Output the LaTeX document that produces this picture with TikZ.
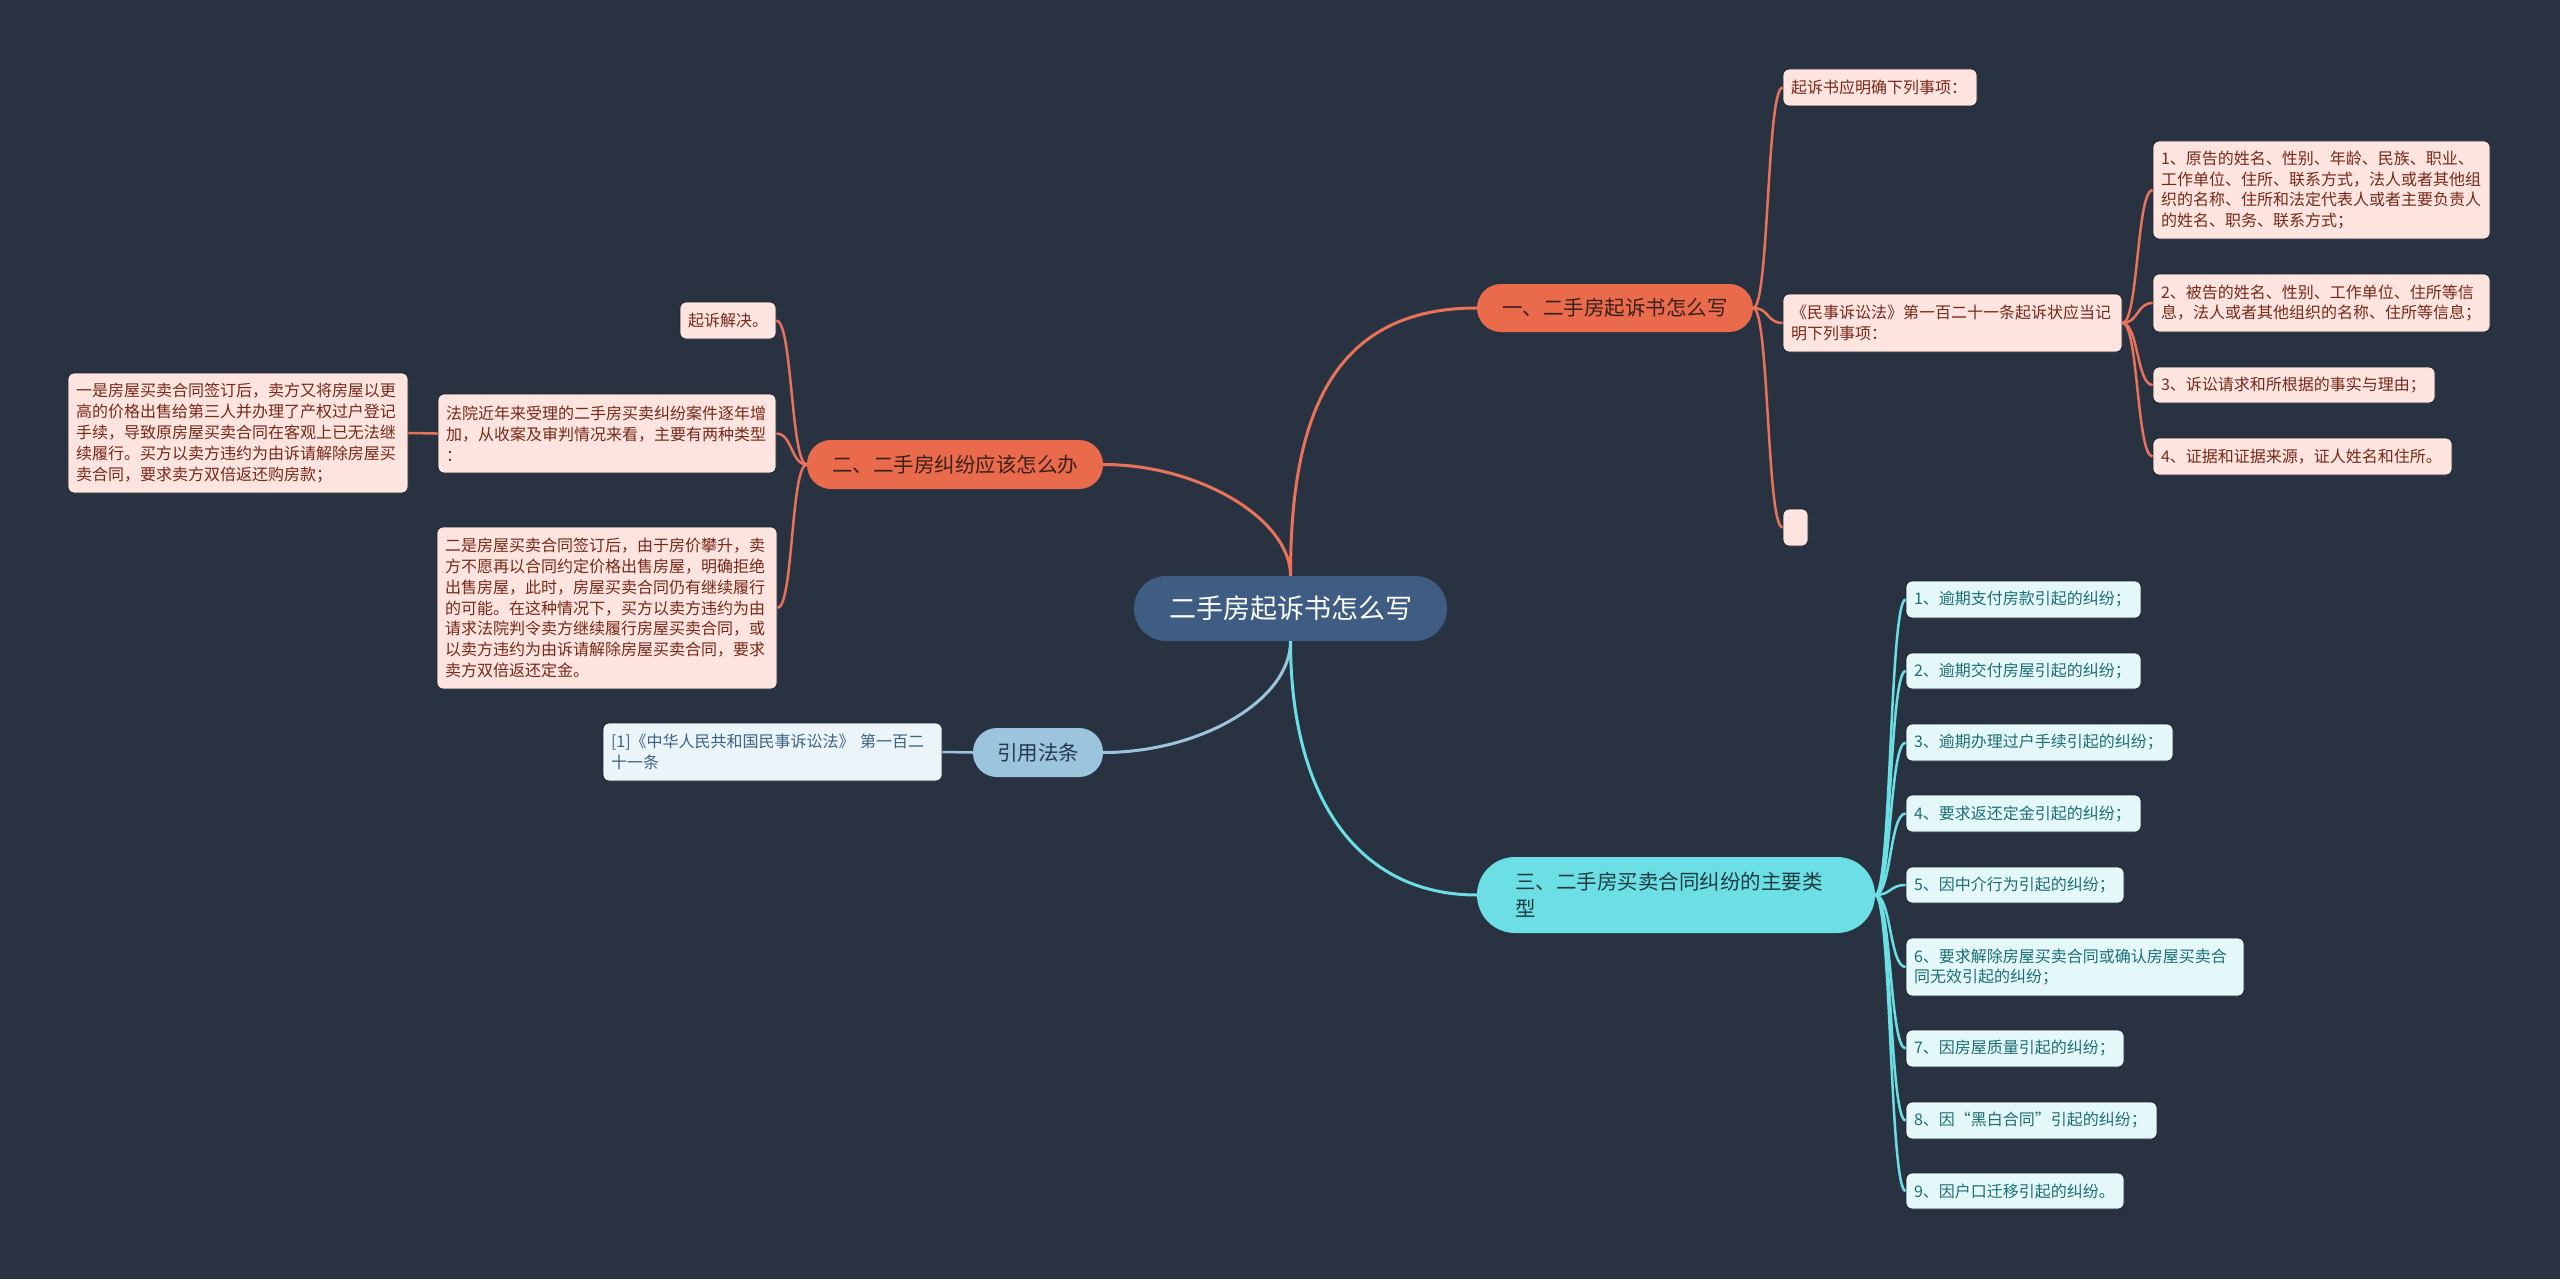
\documentclass[tikz,border=0pt]{standalone}
\usepackage{fontspec}
\setmainfont{Noto Sans CJK SC}
\definecolor{bg}{HTML}{293241}
\definecolor{edgedark}{HTML}{1C222D}
\definecolor{orfill}{HTML}{EA6A4C}
\definecolor{orline}{HTML}{E9735A}
\definecolor{ortext}{HTML}{3A2019}
\definecolor{pkfill}{HTML}{FDE4DE}
\definecolor{pktext}{HTML}{76291B}
\definecolor{cyfill}{HTML}{6CDFE5}
\definecolor{cytext}{HTML}{1E3C42}
\definecolor{cychild}{HTML}{E4F8F9}
\definecolor{cyctext}{HTML}{1D6E74}
\definecolor{lbfill}{HTML}{9CC4DD}
\definecolor{lbtext}{HTML}{243848}
\definecolor{lbchild}{HTML}{EBF4F9}
\definecolor{lbctext}{HTML}{3C6384}
\definecolor{ctrfill}{HTML}{3F5D83}
\newcommand\conR[3]{\draw[#1] (#2.east) .. controls +(16,0) and +(-16,0) .. (#3.west);}
\newcommand\conL[3]{\draw[#1] (#2.west) .. controls +(-16,0) and +(16,0) .. (#3.east);}
\begin{document}
\begin{tikzpicture}[x=1pt,y=-1pt,
  wh/.code 2 args={\pgfmathsetmacro\mytw{#1-16}\tikzset{minimum width=#1pt,minimum height=#2pt,text width=\mytw pt}},
  box/.style={rectangle, rounded corners=6pt, draw=edgedark, line width=0.8pt, inner xsep=8pt, inner ysep=0pt, align=left, font=\fontsize{16}{20.8}\selectfont},
  pk/.style={box, fill=pkfill, text=pktext},
  cyb/.style={box, fill=cychild, text=cyctext},
  lbb/.style={box, fill=lbchild, text=lbctext},
  pill/.style={rectangle, inner sep=0pt, align=center, font=\fontsize{20.5}{27}\selectfont},
  oline/.style={draw=orline, line width=2.5pt},
  cline/.style={draw=cyfill, line width=2.5pt},
  bline/.style={draw=lbfill, line width=2.5pt},
  mainline/.style={line width=3pt}
]
\fill[bg] (0,0) rectangle (2560,1279);
\useasboundingbox (0,0) rectangle (2560,1279);

% centre
\node[pill, fill=ctrfill, text=white, rounded corners=32pt, minimum width=313pt, minimum height=65pt, font=\fontsize{27}{32}\selectfont] (ctr) at (1290.5,608.5) {二手房起诉书怎么写};

% main branches
\node[pill, fill=orfill, text=ortext, rounded corners=24pt, minimum width=276pt, minimum height=48pt] (n1) at (1615,308) {一、二手房起诉书怎么写};
\node[pill, fill=orfill, text=ortext, rounded corners=24pt, minimum width=296pt, minimum height=49pt] (n2) at (955,464.5) {二、二手房纠纷应该怎么办};
\node[pill, fill=lbfill, text=lbtext, rounded corners=24pt, minimum width=130pt, minimum height=49pt] (n4) at (1038,752.5) {引用法条};
\node[pill, fill=cyfill, text=cytext, rounded corners=38pt, minimum width=398pt, minimum height=76pt, text width=322pt, align=left, inner xsep=38pt] (n3) at (1676,895) {三、二手房买卖合同纠纷的主要类\\型};

% branch 1 children
\node[pk, wh={194}{37}] (q1) at (1880,87.5) {起诉书应明确下列事项：};
\node[pk, wh={339}{58}] (q2) at (1952.5,323) {《民事诉讼法》第一百二十一条起诉状应当记\\明下列事项：};
\node[pk, minimum width=25pt, minimum height=37pt, inner xsep=0pt] (q3) at (1795.5,527.5) {};
\node[pk, wh={337}{98}] (i1) at (2321.5,190) {1、原告的姓名、性别、年龄、民族、职业、\\工作单位、住所、联系方式，法人或者其他组\\织的名称、住所和法定代表人或者主要负责人\\的姓名、职务、联系方式；};
\node[pk, wh={337}{58}] (i2) at (2321.5,303) {2、被告的姓名、性别、工作单位、住所等信\\息，法人或者其他组织的名称、住所等信息；};
\node[pk, wh={282}{36}] (i3) at (2294,385) {3、诉讼请求和所根据的事实与理由；};
\node[pk, wh={299}{37}] (i4) at (2302.5,456.5) {4、证据和证据来源，证人姓名和住所。};

% branch 2 children
\node[pk, wh={96}{37}] (l1) at (728,320.5) {起诉解决。};
\node[pk, wh={338}{79}] (l2) at (607,433.5) {法院近年来受理的二手房买卖纠纷案件逐年增\\加，从收案及审判情况来看，主要有两种类型\\：};
\node[pk, wh={340}{120}] (l2a) at (238,433) {一是房屋买卖合同签订后，卖方又将房屋以更\\高的价格出售给第三人并办理了产权过户登记\\手续，导致原房屋买卖合同在客观上已无法继\\续履行。买方以卖方违约为由诉请解除房屋买\\卖合同，要求卖方双倍返还购房款；};
\node[pk, wh={340}{162}] (l3) at (607,608) {二是房屋买卖合同签订后，由于房价攀升，卖\\方不愿再以合同约定价格出售房屋，明确拒绝\\出售房屋，此时，房屋买卖合同仍有继续履行\\的可能。在这种情况下，买方以卖方违约为由\\请求法院判令卖方继续履行房屋买卖合同，或\\以卖方违约为由诉请解除房屋买卖合同，要求\\卖方双倍返还定金。};

% citation child
\node[lbb, wh={339}{58}] (r1) at (772.5,752) {[1]《中华人民共和国民事诉讼法》 第一百二\\十一条};

% branch 3 children
\node[cyb, wh={235}{37}] (c1) at (2023.5,599.5) {1、逾期支付房款引起的纠纷；};
\node[cyb, wh={235}{36}] (c2) at (2023.5,671) {2、逾期交付房屋引起的纠纷；};
\node[cyb, wh={267}{37}] (c3) at (2039.5,742.5) {3、逾期办理过户手续引起的纠纷；};
\node[cyb, wh={235}{37}] (c4) at (2023.5,813.5) {4、要求返还定金引起的纠纷；};
\node[cyb, wh={218}{36}] (c5) at (2015,885) {5、因中介行为引起的纠纷；};
\node[cyb, wh={338}{58}] (c6) at (2075,967) {6、要求解除房屋买卖合同或确认房屋买卖合\\同无效引起的纠纷；};
\node[cyb, wh={218}{37}] (c7) at (2015,1048.5) {7、因房屋质量引起的纠纷；};
\node[cyb, wh={251}{37}] (c8) at (2031.5,1120.5) {8、因“黑白合同”引起的纠纷；};
\node[cyb, wh={218}{36}] (c9) at (2015,1191) {9、因户口迁移引起的纠纷。};

% main connectors
\draw[oline, mainline] (ctr.north) .. controls +(0,-156) and +(-147,0) .. (n1.west);
\draw[oline, mainline] (ctr.north) .. controls +(0,-56) and +(97,0) .. (n2.east);
\draw[bline, mainline] (ctr.south) .. controls +(0,59) and +(97,0) .. (n4.east);
\draw[cline, mainline] (ctr.south) .. controls +(0,159) and +(-117,0) .. (n3.west);

% branch 1 connectors
\conR{oline}{n1}{q1}
\conR{oline}{n1}{q2}
\conR{oline}{n1}{q3}
\conR{oline}{q2}{i1}
\conR{oline}{q2}{i2}
\conR{oline}{q2}{i3}
\conR{oline}{q2}{i4}

% branch 2 connectors
\conL{oline}{n2}{l1}
\conL{oline}{n2}{l2}
\conL{oline}{n2}{l3}
\conL{oline}{l2}{l2a}

% citation connector
\conL{bline}{n4}{r1}

% branch 3 connectors
\conR{cline}{n3}{c1}
\conR{cline}{n3}{c2}
\conR{cline}{n3}{c3}
\conR{cline}{n3}{c4}
\conR{cline}{n3}{c5}
\conR{cline}{n3}{c6}
\conR{cline}{n3}{c7}
\conR{cline}{n3}{c8}
\conR{cline}{n3}{c9}
\end{tikzpicture}
\end{document}
